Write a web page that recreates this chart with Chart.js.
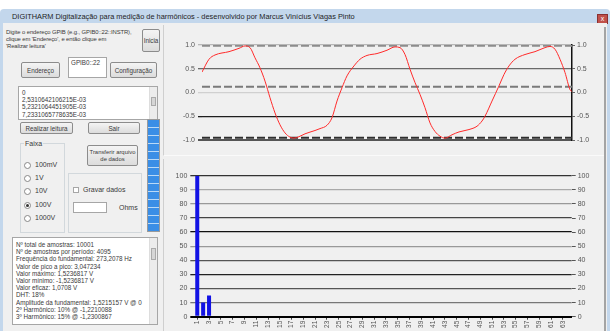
<!DOCTYPE html>
<html lang="pt-BR">
<head>
<meta charset="utf-8">
<title>DIGITHARM</title>
<script src="https://cdn.jsdelivr.net/npm/chart.js@4.4.1/dist/chart.umd.min.js"></script>
<style>
    html, body { margin: 0; padding: 0; }
    body {
        width: 610px; height: 331px; overflow: hidden; position: relative;
        background: #fff; font-family: "Liberation Sans", Arial, sans-serif;
        font-size: 7px; color: #3a3a3a;
    }
    .abs { position: absolute; }
    .moldura { left: 0; top: 9px; width: 610px; height: 330px; background: #c3d7ec; border-radius: 4px 4px 0 0; }
    .titulo { left: 12px; top: 12px; font-size: 7.4px; color: #1e1e1e; white-space: nowrap; }
    .fechar { left: 597px; top: 14px; width: 9px; height: 8px; background: #c0504a; border: 1px solid #8a3030; color: #fff; font-size: 7px; line-height: 8px; text-align: center; }
    .cliente { left: 3px; top: 23px; width: 604px; height: 320px; background: #f0f0f0; }
    .btn {
        background: linear-gradient(#f4f4f4, #dcdcdc); border: 1px solid #8c8c8c; border-radius: 2px;
        box-sizing: border-box; text-align: center; font-size: 6.3px; color: #3a3a3a;
        display: flex; align-items: center; justify-content: center; line-height: 7px; white-space: nowrap;
    }
    .caixa { background: #fff; border: 1px solid #a6a6a6; box-sizing: border-box; }
    .grupo { border: 1px solid #d2d8dc; box-sizing: border-box; }
    .rolagem { right: 0; top: 0; width: 7px; height: 100%; background: #ececec; border-left: 1px solid #ddd; }
    .polegar { left: 1px; width: 5px; height: 9px; background: #d6d6d6; border: 1px solid #aaa; box-sizing: border-box; }
    .linhas { left: 3px; top: 2px; font-size: 6.3px; line-height: 7.2px; color: #3a3a3a; white-space: nowrap; }
    .radio { width: 5px; height: 5px; border: 1px solid #888; border-radius: 50%; background: #fff; }
    .radio.on::after { content: ""; position: absolute; left: 1px; top: 1px; width: 3px; height: 3px; border-radius: 50%; background: #333; }
    .progresso {
        left: 147px; top: 119px; width: 13px; height: 113px; border: 1px solid #9a9a9a; box-sizing: border-box;
        background: repeating-linear-gradient(#3a8ee6 0px, #3a8ee6 7px, #b9d9f7 7px, #b9d9f7 8px);
    }
    .painel { border-left: 1px solid #cfcfcf; box-sizing: border-box; }
</style>
</head>
<body>
<div class="abs moldura"></div>
<div class="abs titulo">DIGITHARM Digitalização para medição de harmônicos  -  desenvolvido por Marcus Vinícius Viagas Pinto</div>
<div class="abs fechar">x</div>
<div class="abs cliente"></div>

<!-- painel esquerdo -->
<div class="abs" style="left:6px; top:29px; font-size:5.9px; line-height:7px; white-space:nowrap; letter-spacing:-0.1px;">
    Digite o endereço GPIB (e.g., GPIB0::22::INSTR),<br>clique em 'Endereço', e então clique em<br>'Realizar leitura'
</div>
<div class="abs btn" style="left:142px; top:29px; width:18px; height:23px;">Inicia</div>
<div class="abs btn" style="left:21px; top:62px; width:39px; height:16px;">Endereço</div>
<div class="abs caixa" style="left:68px; top:57px; width:39px; height:21px;"><span class="abs" style="left:2px; top:1px; font-size:6.3px;">GPIB0::22</span></div>
<div class="abs btn" style="left:110px; top:62px; width:47px; height:16px;">Configuração</div>

<div class="abs caixa" style="left:18px; top:86px; width:140px; height:34px; overflow:hidden;">
    <div class="abs linhas">0<br>2,5310642106215E-03<br>5,2321064451905E-03<br>7,2331065778635E-03</div>
    <div class="abs rolagem"><div class="abs polegar" style="top:10px;"></div></div>
</div>
<div class="abs btn" style="left:20px; top:122px; width:53px; height:12px;">Realizar leitura</div>
<div class="abs btn" style="left:88px; top:122px; width:52px; height:12px;">Sair</div>
<div class="abs progresso"></div>

<div class="abs grupo" style="left:20px; top:143px; width:45px; height:90px;"></div>
<div class="abs" style="left:24px; top:140px; background:#f0f0f0; padding:0 1px;">Faixa</div>
<div class="abs radio" style="left:24px; top:162px;"></div><div class="abs" style="left:35px; top:161px;">100mV</div>
<div class="abs radio" style="left:24px; top:175px;"></div><div class="abs" style="left:35px; top:174px;">1V</div>
<div class="abs radio" style="left:24px; top:188px;"></div><div class="abs" style="left:35px; top:187px;">10V</div>
<div class="abs radio on" style="left:24px; top:202px;"></div><div class="abs" style="left:35px; top:201px;">100V</div>
<div class="abs radio" style="left:24px; top:215px;"></div><div class="abs" style="left:35px; top:214px;">1000V</div>

<div class="abs btn" style="left:87px; top:145px; width:51px; height:21px; font-size:5.9px;">Transferir arquivo<br>de dados</div>
<div class="abs grupo" style="left:68px; top:173px; width:74px; height:60px;"></div>
<div class="abs caixa" style="left:73px; top:187px; width:6px; height:6px;"></div>
<div class="abs" style="left:83px; top:186px;">Gravar dados</div>
<div class="abs caixa" style="left:73px; top:202px; width:34px; height:11px;"></div>
<div class="abs" style="left:119px; top:204px;">Ohms</div>

<div class="abs caixa" style="left:12px; top:237px; width:146px; height:88px; overflow:hidden;">
    <div class="abs linhas" style="top:3px;">
        Nº total de amostras: 10001<br>
        Nº de amostras por período: 4095<br>
        Frequência do fundamental: 273,2078 Hz<br>
        Valor de pico a pico: 3,047234<br>
        Valor máximo: 1,5236817 V<br>
        Valor mínimo: -1,5236817 V<br>
        Valor eficaz: 1,0708 V<br>
        DHT: 18%<br>
        Amplitude da fundamental: 1,5215157 V @ 0<br>
        2º Harmônico: 10% @ -1,2210088<br>
        3º Harmônico: 15% @ -1,2300867
    </div>
    <div class="abs rolagem"><div class="abs polegar" style="top:10px; height:12px;"></div></div>
</div>

<!-- painéis dos gráficos -->
<div class="abs painel" style="left:163px; top:25px; width:442px; height:131px; border-bottom:1px solid #fafafa;"></div>
<div class="abs painel" style="left:163px; top:159px; width:442px; height:180px;"></div>
<div class="abs" style="left:604px; top:27px; width:2px; height:310px; background:#a4a4a4;"></div>

<canvas id="graficoOnda" class="abs" width="440" height="125" style="left:165px; top:30px;"></canvas>
<canvas id="graficoHarm" class="abs" width="440" height="169" style="left:165px; top:162px;"></canvas>

<script>
// forma de onda lida no instrumento (posição ao longo da janela, valor normalizado)
const tempo = [0, 7, 13, 27, 37, 43, 48, 53, 58, 63, 68, 73, 78, 83, 88, 92, 97, 103, 113, 118,
    125, 130, 135, 140, 145, 152, 158, 165, 175, 185, 193, 198, 203, 208, 213, 218, 223, 228, 233,
    238, 243, 250, 257, 267, 275, 280, 283, 290, 297, 302, 307, 313, 323, 333, 343, 348, 353, 358,
    363, 368, 370];
const tensao = [0.43, 0.70, 0.79, 0.86, 0.93, 0.98, 0.945, 0.73, 0.52, 0.24, -0.11, -0.43, -0.68,
    -0.85, -0.94, -0.96, -0.93, -0.87, -0.80, -0.76, -0.69, -0.53, -0.18, 0.10, 0.35, 0.56, 0.70,
    0.78, 0.82, 0.89, 0.96, 0.945, 0.80, 0.49, 0.21, -0.04, -0.32, -0.64, -0.82, -0.92, -0.96,
    -0.89, -0.83, -0.78, -0.71, -0.60, -0.50, -0.18, 0.14, 0.38, 0.56, 0.70, 0.80, 0.86, 0.945,
    0.97, 0.91, 0.70, 0.42, 0.06, 0.02];

// linhas tracejadas de referência
const nivelMax = 0.985;
const nivelMedio = 0.12;
const nivelMin = -0.955;
const ticksTensao = [1, 0.5, 0, -0.5, -1];

// espectro de harmônicos (% da fundamental)
const ordens = [1, 2, 3, 4, 5, 6, 7, 8, 9, 10, 11, 12, 13, 14, 15, 16, 17, 18, 19, 20, 21, 22, 23,
    24, 25, 26, 27, 28, 29, 30, 31, 32, 33, 34, 35, 36, 37, 38, 39, 40, 41, 42, 43, 44, 45, 46, 47,
    48, 49, 50, 51, 52, 53, 54, 55, 56, 57, 58, 59, 60, 61, 62, 63, 64];
const amplitudes = [100, 10, 15, 0, 0, 0, 0, 0, 0, 0, 0, 0, 0, 0, 0, 0, 0, 0, 0, 0, 0, 0, 0, 0, 0,
    0, 0, 0, 0, 0, 0, 0, 0, 0, 0, 0, 0, 0, 0, 0, 0, 0, 0, 0, 0, 0, 0, 0, 0, 0, 0, 0, 0, 0, 0, 0, 0,
    0, 0, 0, 0, 0, 0, 0];
const ticksPercent = [0, 10, 20, 30, 40, 50, 60, 70, 80, 90, 100];

const fonteEixo = { family: '"Liberation Sans", Arial, sans-serif', size: 7 };

// cores das linhas de grade da onda
function corGradeOnda(v) {
    if (v === 1) return '#b8b8b8';
    if (v === 0.5) return '#6a6a6a';
    if (v === 0) return '#d0d0d0';
    if (v === -0.5) return '#1e1e1e';
    return '#555';
}

function linhaRef(valor, cor) {
    return {
        data: [{ x: 0, y: valor }, { x: 370, y: valor }],
        borderColor: cor, borderWidth: 2, borderDash: [8, 3], pointRadius: 0
    };
}

new Chart(document.getElementById('graficoOnda'), {
    type: 'line',
    data: {
        datasets: [
            {
                data: tempo.map((t, i) => ({ x: t, y: tensao[i] })),
                borderColor: '#ff2a2a',
                borderWidth: 1,
                pointRadius: 0,
                cubicInterpolationMode: 'monotone'
            },
            linhaRef(nivelMax, '#8c8c8c'),
            linhaRef(nivelMedio, '#7a7a7a'),
            linhaRef(nivelMin, '#2e2e2e')
        ]
    },
    options: {
        responsive: false,
        animation: false,
        layout: { padding: { top: 15, bottom: 15 } },
        plugins: { legend: { display: false }, tooltip: { enabled: false } },
        scales: {
            x: { type: 'linear', min: 0, max: 370, display: false },
            y: {
                position: 'left', min: -1, max: 1,
                afterBuildTicks: s => { s.ticks = ticksTensao.map(v => ({ value: v })); },
                afterFit: s => { s.width = 37; },
                border: { display: false },
                grid: {
                    color: c => corGradeOnda(c.tick.value),
                    lineWidth: c => (c.tick.value === -1 ? 2 : 1.3),
                    tickLength: 4
                },
                ticks: { font: fonteEixo, color: '#555', padding: 3, callback: v => v.toFixed(1) }
            },
            y2: {
                position: 'right', min: -1, max: 1,
                afterBuildTicks: s => { s.ticks = ticksTensao.map(v => ({ value: v })); },
                afterFit: s => { s.width = 33; },
                border: { color: '#111', width: 1.5 },
                grid: { drawOnChartArea: false, color: '#666', tickLength: 3 },
                ticks: { font: fonteEixo, color: '#555', padding: 2, callback: v => v.toFixed(1) }
            }
        }
    }
});

// cores das linhas de grade do espectro
const coresGradeHarm = {
    0: '#000', 10: '#777', 20: '#555', 30: '#222', 40: '#555', 50: '#999',
    60: '#111', 70: '#444', 80: '#999', 90: '#aaa', 100: '#333'
};

new Chart(document.getElementById('graficoHarm'), {
    type: 'bar',
    data: {
        labels: ordens,
        datasets: [{
            data: amplitudes,
            backgroundColor: '#1212e4',
            barPercentage: 0.68,
            categoryPercentage: 1
        }]
    },
    options: {
        responsive: false,
        animation: false,
        layout: { padding: { top: 13.7 } },
        plugins: { legend: { display: false }, tooltip: { enabled: false } },
        scales: {
            x: {
                afterFit: s => { s.height = 14.3; },
                border: { color: '#000', width: 2 },
                grid: {
                    drawOnChartArea: false, offset: false, tickLength: 3,
                    color: c => (c.index % 2 ? 'rgba(0,0,0,0)' : '#444')
                },
                ticks: {
                    autoSkip: false, minRotation: 90, maxRotation: 90, padding: 1,
                    font: { family: fonteEixo.family, size: 6.5 }, color: '#555',
                    callback: (v, i) => (i % 2 ? '' : String(ordens[i]))
                }
            },
            y: {
                position: 'left', min: 0, max: 100,
                afterBuildTicks: s => { s.ticks = ticksPercent.map(v => ({ value: v })); },
                afterFit: s => { s.width = 29.3; },
                border: { display: false },
                grid: {
                    color: c => coresGradeHarm[c.tick.value] || '#555',
                    lineWidth: c => (c.tick.value === 0 ? 2 : 1.3),
                    tickLength: 4
                },
                ticks: { font: fonteEixo, color: '#555', padding: 3 }
            },
            y2: {
                position: 'right', min: 0, max: 100,
                afterBuildTicks: s => { s.ticks = ticksPercent.map(v => ({ value: v })); },
                afterFit: s => { s.width = 33.3; },
                border: { display: false },
                grid: { drawOnChartArea: false, color: '#555', tickLength: 4 },
                ticks: { font: fonteEixo, color: '#555', padding: 2 }
            }
        }
    }
});
</script>
</body>
</html>
